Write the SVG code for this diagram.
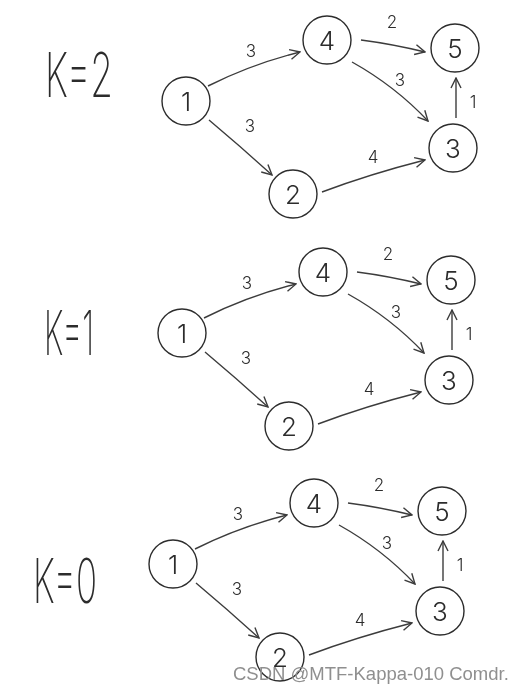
<svg xmlns="http://www.w3.org/2000/svg" width="530" height="693" viewBox="0 0 530 693">
<style>
.bg{fill:#fff}
.node circle{fill:none;stroke:#2a2a2a;stroke-width:1.4}
.node text{font-family:"Inter","Liberation Sans",sans-serif;font-weight:300;font-size:26px;fill:#2a2a2a;text-anchor:middle;dominant-baseline:central}
.edge{fill:none;stroke:#3a3a3a;stroke-width:1.4;marker-end:url(#ah)}
.lbl{font-family:"Inter","Liberation Sans",sans-serif;font-weight:300;font-size:17px;fill:#2a2a2a;text-anchor:middle;dominant-baseline:central}
.k{font-family:"Inter","Liberation Sans",sans-serif;font-weight:200;font-size:62px;fill:#2a2a2a}
.wm{font-family:"Liberation Sans",sans-serif;font-size:18.5px;fill:#8e8e8e}
</style>
<defs>
<marker id="ah" viewBox="0 0 12 12" refX="11" refY="6" markerWidth="12" markerHeight="12" markerUnits="userSpaceOnUse" orient="auto">
<path d="M1,1 L11,6 L1,11" fill="none" stroke="#3a3a3a" stroke-width="1.4"/>
</marker>
</defs>
<rect class="bg" x="0" y="0" width="530" height="693"/>
<g opacity="0.99">
<text class="k" x="45" y="97" textLength="68" lengthAdjust="spacingAndGlyphs">K=2</text>
<text class="k" x="44" y="355" textLength="50" lengthAdjust="spacingAndGlyphs">K=1</text>
<text class="k" x="33" y="603" textLength="64" lengthAdjust="spacingAndGlyphs">K=0</text>

<g id="panel1">
<g id="p1-edges">
<path class="edge" d="M208,86 Q252,64 300,52"/>
<path class="edge" d="M209,120 Q240,146 272,175"/>
<path class="edge" d="M361,40 Q392,44 425,52"/>
<path class="edge" d="M352,62 Q395,86 428,121"/>
<path class="edge" d="M456,118 L456,78"/>
<path class="edge" d="M322,192 Q370,174 425,160"/>
<text class="lbl" x="251" y="51">3</text>
<text class="lbl" x="250" y="126">3</text>
<text class="lbl" x="392" y="22">2</text>
<text class="lbl" x="400" y="80">3</text>
<text class="lbl" x="473" y="102">1</text>
<text class="lbl" x="373" y="157">4</text>
</g>
<g id="p1-n1" class="node"><circle cx="186" cy="101" r="24"/><text x="186" y="101">1</text></g>
<g id="p1-n4" class="node"><circle cx="327" cy="40" r="24"/><text x="327" y="40">4</text></g>
<g id="p1-n5" class="node"><circle cx="455" cy="48" r="24"/><text x="455" y="48">5</text></g>
<g id="p1-n3" class="node"><circle cx="453" cy="148" r="24"/><text x="453" y="148">3</text></g>
<g id="p1-n2" class="node"><circle cx="293" cy="194" r="24"/><text x="293" y="194">2</text></g>
</g>

<g id="panel2" transform="translate(-4,232)">
<g id="p2-edges">
<path class="edge" d="M208,86 Q252,64 300,52"/>
<path class="edge" d="M209,120 Q240,146 272,175"/>
<path class="edge" d="M361,40 Q392,44 425,52"/>
<path class="edge" d="M352,62 Q395,86 428,121"/>
<path class="edge" d="M456,118 L456,78"/>
<path class="edge" d="M322,192 Q370,174 425,160"/>
<text class="lbl" x="251" y="51">3</text>
<text class="lbl" x="250" y="126">3</text>
<text class="lbl" x="392" y="22">2</text>
<text class="lbl" x="400" y="80">3</text>
<text class="lbl" x="473" y="102">1</text>
<text class="lbl" x="373" y="157">4</text>
</g>
<g id="p2-n1" class="node"><circle cx="186" cy="101" r="24"/><text x="186" y="101">1</text></g>
<g id="p2-n4" class="node"><circle cx="327" cy="40" r="24"/><text x="327" y="40">4</text></g>
<g id="p2-n5" class="node"><circle cx="455" cy="48" r="24"/><text x="455" y="48">5</text></g>
<g id="p2-n3" class="node"><circle cx="453" cy="148" r="24"/><text x="453" y="148">3</text></g>
<g id="p2-n2" class="node"><circle cx="293" cy="194" r="24"/><text x="293" y="194">2</text></g>
</g>

<g id="panel3" transform="translate(-13,463)">
<g id="p3-edges">
<path class="edge" d="M208,86 Q252,64 300,52"/>
<path class="edge" d="M209,120 Q240,146 272,175"/>
<path class="edge" d="M361,40 Q392,44 425,52"/>
<path class="edge" d="M352,62 Q395,86 428,121"/>
<path class="edge" d="M456,118 L456,78"/>
<path class="edge" d="M322,192 Q370,174 425,160"/>
<text class="lbl" x="251" y="51">3</text>
<text class="lbl" x="250" y="126">3</text>
<text class="lbl" x="392" y="22">2</text>
<text class="lbl" x="400" y="80">3</text>
<text class="lbl" x="473" y="102">1</text>
<text class="lbl" x="373" y="157">4</text>
</g>
<g id="p3-n1" class="node"><circle cx="186" cy="101" r="24"/><text x="186" y="101">1</text></g>
<g id="p3-n4" class="node"><circle cx="327" cy="40" r="24"/><text x="327" y="40">4</text></g>
<g id="p3-n5" class="node"><circle cx="455" cy="48" r="24"/><text x="455" y="48">5</text></g>
<g id="p3-n3" class="node"><circle cx="453" cy="148" r="24"/><text x="453" y="148">3</text></g>
<g id="p3-n2" class="node"><circle cx="293" cy="194" r="24"/><text x="293" y="194">2</text></g>
</g>

<text class="wm" x="233" y="680">CSDN @MTF-Kappa-010 Comdr.</text>
</g>
</svg>
